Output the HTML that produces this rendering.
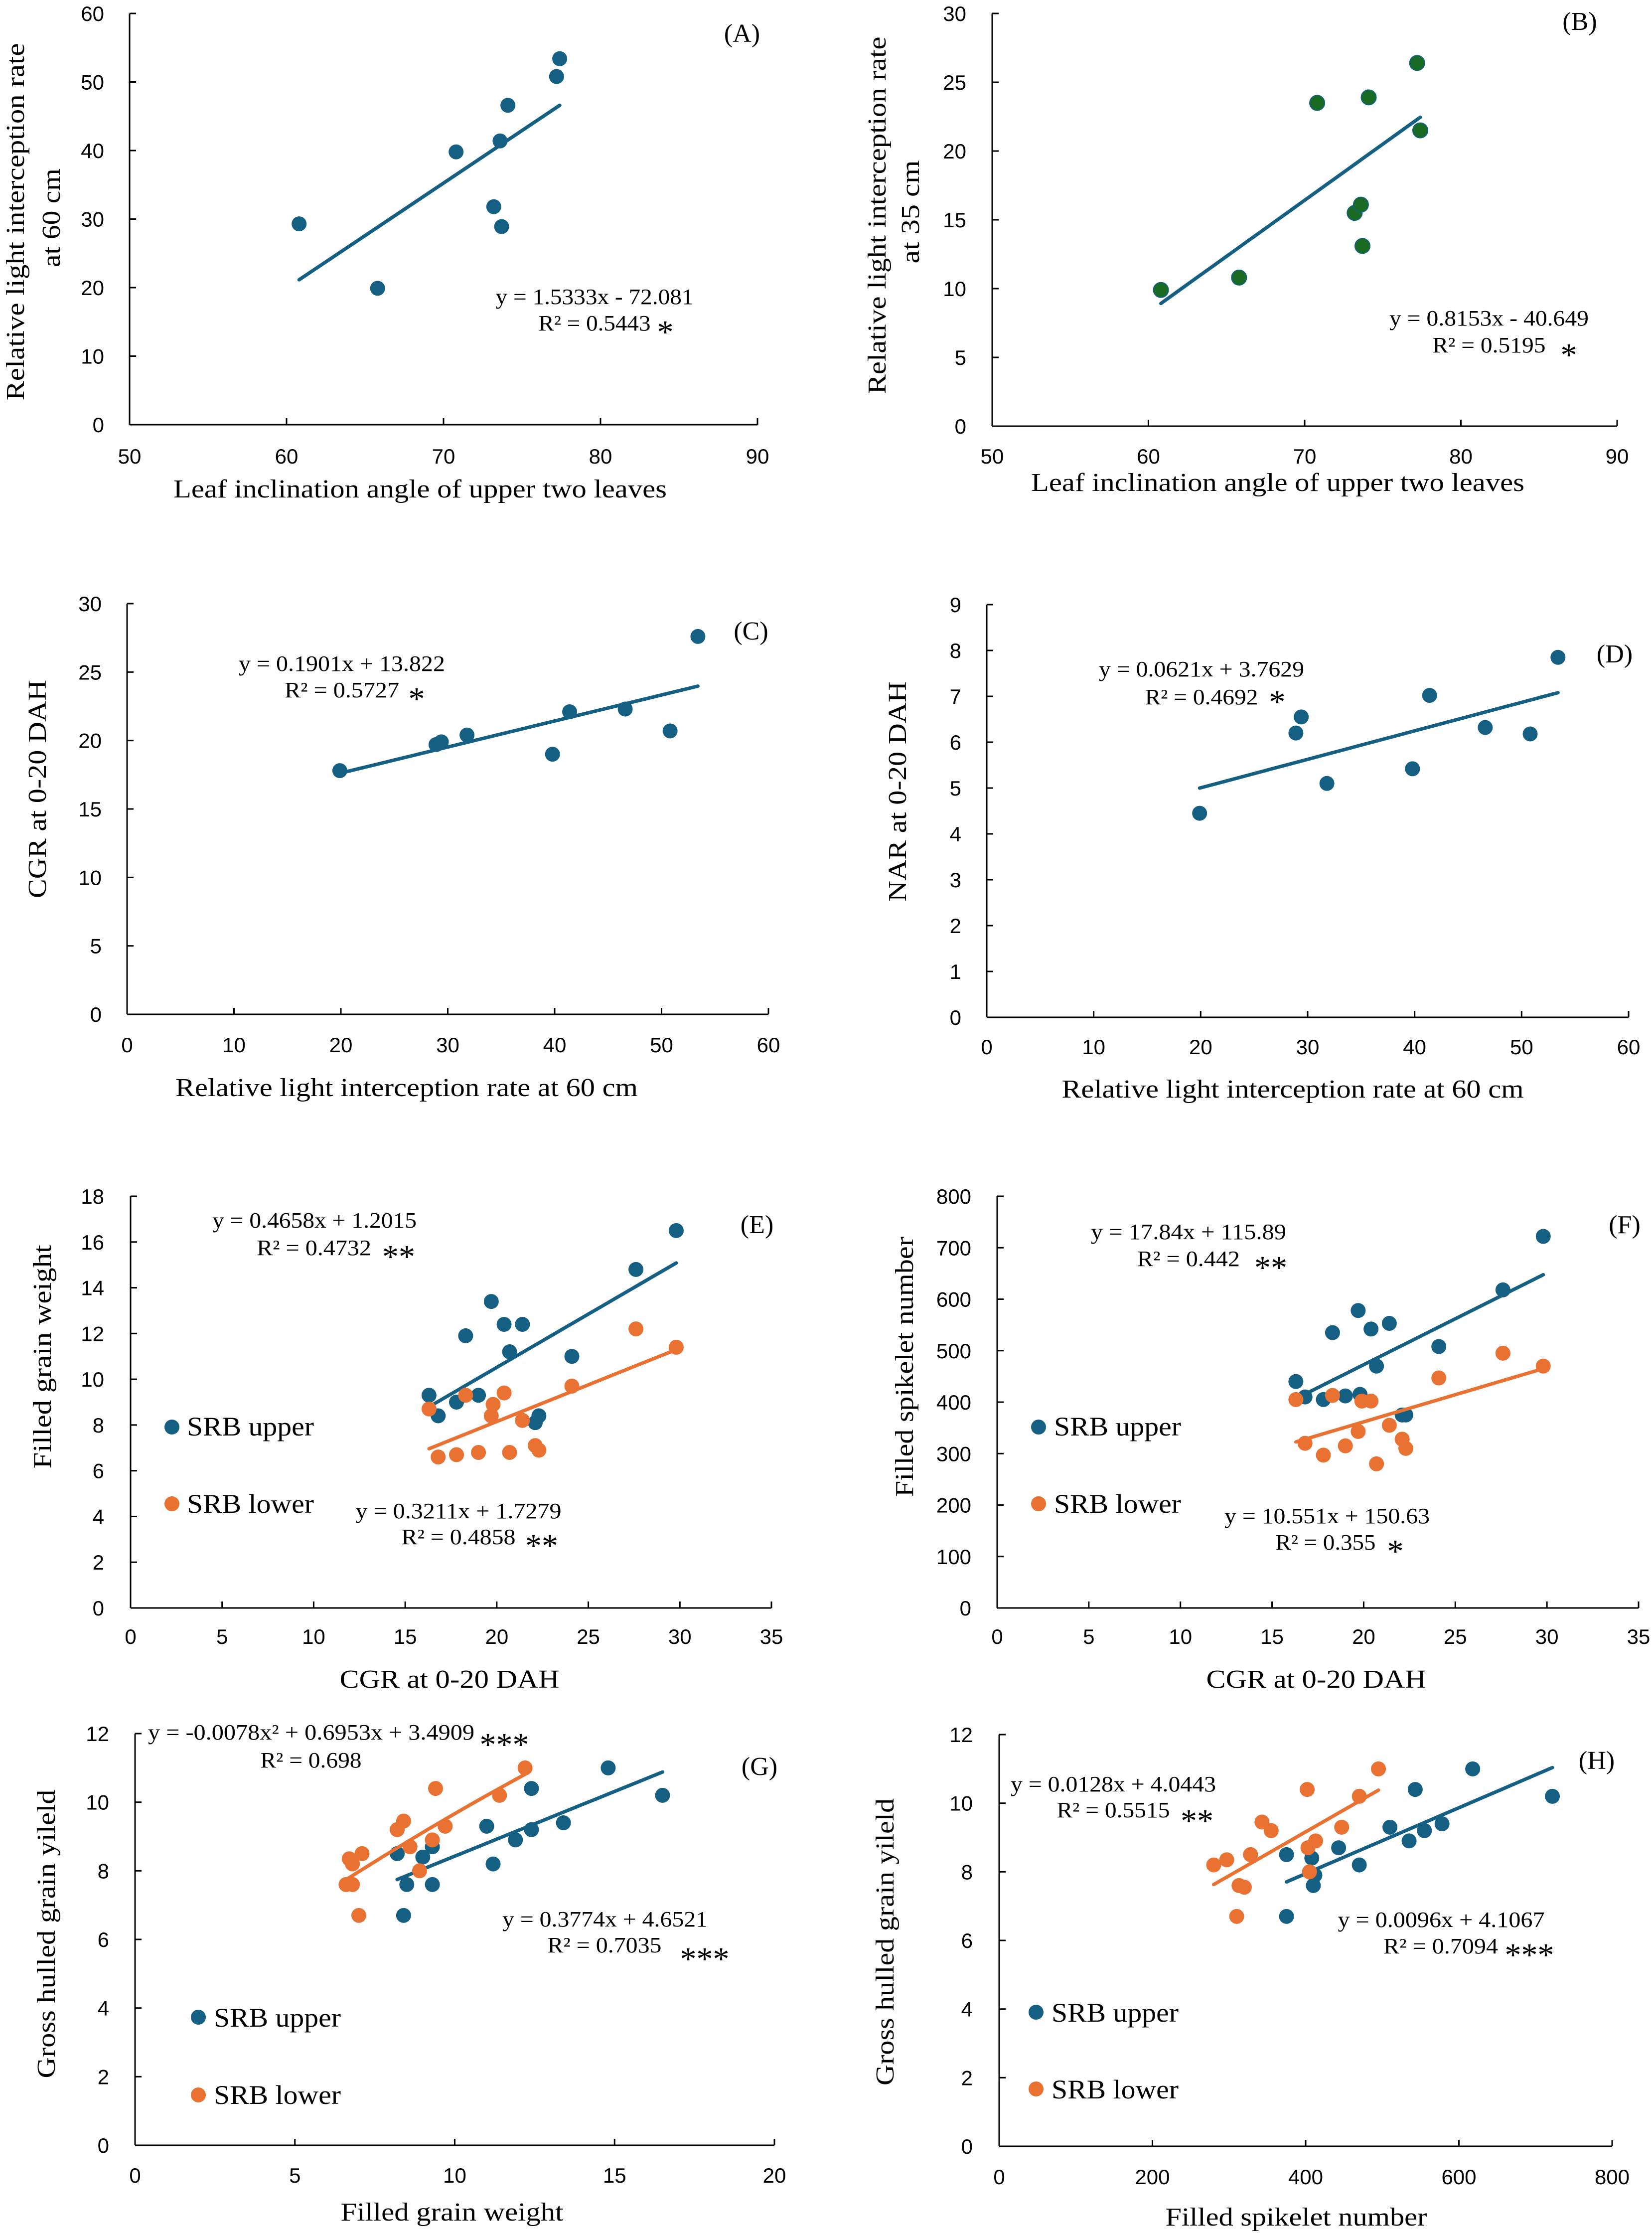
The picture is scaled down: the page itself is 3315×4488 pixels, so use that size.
<!DOCTYPE html>
<html><head><meta charset="utf-8">
<style>
html,body{margin:0;padding:0;background:#fff;}
svg{display:block;}
.tk{font-family:"Liberation Sans",Arial,sans-serif;font-size:42px;fill:#000;}
.tt{font-family:"Liberation Serif","Times New Roman",serif;font-size:52px;fill:#000;}
.eq{font-family:"Liberation Serif","Times New Roman",serif;font-size:44px;fill:#000;}
.sg{font-family:"Liberation Serif","Times New Roman",serif;font-size:66px;fill:#000;}
.lg{font-family:"Liberation Serif","Times New Roman",serif;font-size:54px;fill:#000;}
.pl{font-family:"Liberation Serif","Times New Roman",serif;font-size:52px;fill:#000;}
</style></head>
<body>
<svg id="fig" xmlns="http://www.w3.org/2000/svg" width="3315" height="4488" viewBox="0 0 3315 4488"></svg>
<script>
// ---- data ----
const A_x=[60.8,65.8,70.8,73.2,73.6,73.7,74.1,77.2,77.4];
const A_y=[29.3,19.9,39.8,31.8,41.4,28.9,46.6,50.8,53.4];
const B_y=[9.9,10.8,23.5,15.5,16.1,13.1,23.9,26.4,21.5];
const C_x=[19.9,28.9,29.4,31.8,39.8,41.4,46.6,50.8,53.4];
const C_y=[17.8,19.7,19.9,20.4,19.0,22.1,22.3,20.7,27.6];
const D_y=[4.45,6.2,6.55,5.1,5.42,7.02,6.32,6.18,7.85];
const E_xu=[16.3,16.8,17.8,18.3,19.0,19.7,20.4,20.7,21.4,22.1,22.3,24.1,27.6,29.8];
const E_yu=[9.3,8.4,9.0,11.9,9.3,13.4,12.4,11.2,12.4,8.1,8.4,11.0,14.8,16.5];
const E_xl=[16.3,16.8,17.8,18.3,19.0,19.7,19.8,20.4,20.7,21.4,22.1,22.3,24.1,27.6,29.8];
const E_yl=[8.7,6.6,6.7,9.3,6.8,8.4,8.9,9.4,6.8,8.2,7.1,6.9,9.7,12.2,11.4];
const F_xu=[16.3,16.8,17.8,18.3,19.0,19.7,19.8,20.4,20.7,21.4,22.1,22.3,24.1,27.6,29.8];
const F_yu=[440,410,405,535,412,578,415,542,470,553,375,375,508,618,722];
const F_xl=[16.3,16.8,17.8,18.3,19.0,19.7,19.9,20.4,20.7,21.4,22.1,22.3,24.1,27.6,29.8];
const F_yl=[405,320,297,413,315,343,402,402,280,355,328,310,447,495,470];
const G_xu=[8.2,8.4,8.5,9.0,9.3,9.3,11.0,11.2,11.9,12.4,12.4,13.4,14.8,16.5];
const G_yu=[8.5,6.7,7.6,8.4,8.7,7.6,9.3,8.2,8.9,9.2,10.4,9.4,11.0,10.2];
const G_xl=[6.6,6.7,6.8,6.8,7.0,7.1,8.2,8.4,8.6,8.9,9.3,9.4,9.7,11.4,12.2];
const G_yl=[7.6,8.35,8.2,7.6,6.7,8.5,9.2,9.45,8.7,8.0,8.9,10.4,9.3,10.2,11.0];
const H_xu=[375,375,408,410,412,443,470,510,535,543,555,578,618,722];
const H_yu=[8.5,6.7,8.4,7.6,7.9,8.7,8.2,9.3,8.9,10.4,9.2,9.4,11.0,10.2];
const H_xl=[280,297,310,313,320,328,343,355,402,403,405,413,447,470,495];
const H_yl=[8.2,8.35,6.7,7.6,7.55,8.5,9.45,9.2,10.4,8.7,8.0,8.9,9.3,10.2,11.0];
const A_xticks=[50,60,70,80,90], A_yticks=[0,10,20,30,40,50,60];
const B_yticks=[0,5,10,15,20,25,30];
const C_xticks=[0,10,20,30,40,50,60], C_yticks=[0,5,10,15,20,25,30];
const D_yticks=[0,1,2,3,4,5,6,7,8,9];
const E_xticks=[0,5,10,15,20,25,30,35], E_yticks=[0,2,4,6,8,10,12,14,16,18];
const F_yticks=[0,100,200,300,400,500,600,700,800];
const G_xticks=[0,5,10,15,20], G_yticks=[0,2,4,6,8,10,12];
const H_xticks=[0,200,400,600,800];
// trendline coefficients [c2,c1,c0]
const A_fit=[0,1.5333,-72.081], B_fit=[0,0.8153,-40.649], C_fit=[0,0.1901,13.822], D_fit=[0,0.0621,3.7629];
const E_fitU=[0,0.4658,1.2015], E_fitL=[0,0.3211,1.7279];
const F_fitU=[0,17.84,115.89], F_fitL=[0,10.551,150.63];
const G_fitU=[0,0.3774,4.6521], G_fitL=[-0.0078,0.6953,3.4909];
const H_fitU=[0,0.0096,4.1067], H_fitL=[0,0.0128,4.0443];

const BLUE='#156082', ORANGE='#E97132', GREEN='#196B24';
const NS='http://www.w3.org/2000/svg';
const svg=document.getElementById('fig');
function mk(tag,parent,attrs,name){
  const el=document.createElementNS(NS,tag);
  for(const k in attrs) el.setAttribute(k,attrs[k]);
  
  
  parent.appendChild(el);return el;
}
function txt(parent,s,x,y,cls,name,opt){
  opt=opt||{};
  const a={x:x,y:y,'class':cls};
  if(opt.anchor) a['text-anchor']=opt.anchor;
  if(opt.len){a.textLength=opt.len;a.lengthAdjust='spacingAndGlyphs';}
  if(opt.rot){a.transform='rotate(-90 '+x+' '+y+')';}
  const t=mk('text',parent,a,name);t.textContent=s;return t;
}
function panel(P){
  const g=mk('g',svg,{},'panel-'+P.id);
  const sx=v=>P.x0+(v-P.xmin)/(P.xmax-P.xmin)*(P.x1-P.x0);
  const sy=v=>P.yb-(v-P.ymin)/(P.ymax-P.ymin)*(P.yb-P.yt);
  mk('line',g,{x1:P.x0,y1:P.yt,x2:P.x0,y2:P.yb,stroke:'#000','stroke-width':3},'y-axis');
  mk('line',g,{x1:P.x0,y1:P.yb,x2:P.x1,y2:P.yb,stroke:'#000','stroke-width':3},'x-axis');
  P.yticks.forEach(v=>{
    const y=sy(v);
    mk('line',g,{x1:P.x0,y1:y,x2:P.x0+13,y2:y,stroke:'#000','stroke-width':3},'y-tick');
    txt(g,String(v),P.ylx,y+15,'tk','y-tick-label',{anchor:'end'});
  });
  P.xticks.forEach(v=>{
    const x=sx(v);
    mk('line',g,{x1:x,y1:P.yb,x2:x,y2:P.yb-13,stroke:'#000','stroke-width':3},'x-tick');
    txt(g,String(v),x,P.xly,'tk','x-tick-label',{anchor:'middle'});
  });
  P.series.forEach(S=>{
    const xs=S.x, c=S.fit;
    const lo=Math.min(...xs), hi=Math.max(...xs);
    let pts=[];
    for(let i=0;i<=20;i++){const xv=lo+(hi-lo)*i/20;pts.push(sx(xv).toFixed(1)+','+sy(c[0]*xv*xv+c[1]*xv+c[2]).toFixed(1));}
    mk('polyline',g,{points:pts.join(' '),fill:'none',stroke:S.line,'stroke-width':7,'stroke-linecap':'round'},'trendline-'+S.name);
    xs.forEach((xv,i)=>{
      const a={cx:sx(xv),cy:sy(S.y[i]),r:15,fill:S.color};
      if(S.edge){a.stroke=S.edge;a['stroke-width']=2;}
      mk('circle',g,a,'point-'+S.name);
    });
  });
  P.texts.forEach(T=>txt(g,T[0],T[1],T[2],T[3],T[4],T[5]));
  return g;
}
const U={name:'srb-upper',color:BLUE,line:BLUE}, L={name:'srb-lower',color:ORANGE,line:ORANGE};
const panels=[
 {id:'a',x0:260,x1:1520,yt:27,yb:852,xmin:50,xmax:90,ymin:0,ymax:60,xticks:A_xticks,yticks:A_yticks,ylx:209,xly:930,
  series:[{name:'a',x:A_x,y:A_y,fit:A_fit,color:BLUE,line:BLUE}],
  texts:[['Leaf inclination angle of upper two leaves',843,998,'tt','x-axis-title',{anchor:'middle',len:990}],
   ['Relative light interception rate',48,445,'tt','y-axis-title',{anchor:'middle',rot:1,len:717}],
   ['at 60 cm',120,437,'tt','y-axis-title-line2',{anchor:'middle',rot:1,len:198}],
   ['(A)',1489,84,'pl','panel-label',{anchor:'middle'}],
   ['y = 1.5333x - 72.081',1193,610,'eq','trend-equation',{anchor:'middle',len:397}],
   ['R² = 0.5443',1193,663,'eq','r-squared',{anchor:'middle',len:225}],
   ['*',1335,688,'sg','significance',{anchor:'middle'}]]},
 {id:'b',x0:1991,x1:3245,yt:27,yb:855,xmin:50,xmax:90,ymin:0,ymax:30,xticks:A_xticks,yticks:B_yticks,ylx:1939,xly:930,
  series:[{name:'b',x:A_x,y:B_y,fit:B_fit,color:GREEN,line:BLUE,edge:BLUE}],
  texts:[['Leaf inclination angle of upper two leaves',2564,985,'tt','x-axis-title',{anchor:'middle',len:990}],
   ['Relative light interception rate',1777,432,'tt','y-axis-title',{anchor:'middle',rot:1,len:717}],
   ['at 35 cm',1844,425,'tt','y-axis-title-line2',{anchor:'middle',rot:1,len:207}],
   ['(B)',3170,60,'pl','panel-label',{anchor:'middle'}],
   ['y = 0.8153x - 40.649',2988,653,'eq','trend-equation',{anchor:'middle',len:400}],
   ['R² = 0.5195',2988,707,'eq','r-squared',{anchor:'middle',len:227}],
   ['*',3148,734,'sg','significance',{anchor:'middle'}]]},
 {id:'c',x0:255,x1:1542,yt:1211,yb:2035,xmin:0,xmax:60,ymin:0,ymax:30,xticks:C_xticks,yticks:C_yticks,ylx:204,xly:2111,
  series:[{name:'c',x:C_x,y:C_y,fit:C_fit,color:BLUE,line:BLUE}],
  texts:[['Relative light interception rate at 60 cm',816,2199,'tt','x-axis-title',{anchor:'middle',len:928}],
   ['CGR at 0-20 DAH',92,1583,'tt','y-axis-title',{anchor:'middle',rot:1,len:438}],
   ['(C)',1507,1283,'pl','panel-label',{anchor:'middle'}],
   ['y = 0.1901x + 13.822',686,1346,'eq','trend-equation',{anchor:'middle',len:414}],
   ['R² = 0.5727',686,1399,'eq','r-squared',{anchor:'middle',len:230}],
   ['*',836,1424,'sg','significance',{anchor:'middle'}]]},
 {id:'d',x0:1980,x1:3268,yt:1213,yb:2041,xmin:0,xmax:60,ymin:0,ymax:9,xticks:C_xticks,yticks:D_yticks,ylx:1929,xly:2115,
  series:[{name:'d',x:C_x,y:D_y,fit:D_fit,color:BLUE,line:BLUE}],
  texts:[['Relative light interception rate at 60 cm',2594,2202,'tt','x-axis-title',{anchor:'middle',len:927}],
   ['NAR at 0-20 DAH',1818,1588,'tt','y-axis-title',{anchor:'middle',rot:1,len:442}],
   ['(D)',3240,1329,'pl','panel-label',{anchor:'middle'}],
   ['y = 0.0621x + 3.7629',2411,1357,'eq','trend-equation',{anchor:'middle',len:412}],
   ['R² = 0.4692',2411,1413,'eq','r-squared',{anchor:'middle',len:227}],
   ['*',2563,1430,'sg','significance',{anchor:'middle'}]]},
 {id:'e',x0:262,x1:1548,yt:2400,yb:3226,xmin:0,xmax:35,ymin:0,ymax:18,xticks:E_xticks,yticks:E_yticks,ylx:209,xly:3298,
  series:[Object.assign({x:E_xu,y:E_yu,fit:E_fitU},U),Object.assign({x:E_xl,y:E_yl,fit:E_fitL},L)],
  texts:[['CGR at 0-20 DAH',902,3386,'tt','x-axis-title',{anchor:'middle',len:441}],
   ['Filled grain weight',102,2722,'tt','y-axis-title',{anchor:'middle',rot:1,len:449}],
   ['(E)',1519,2474,'pl','panel-label',{anchor:'middle'}],
   ['y = 0.4658x + 1.2015',631,2463,'eq','trend-equation-upper',{anchor:'middle',len:410}],
   ['R² = 0.4732',630,2518,'eq','r-squared-upper',{anchor:'middle',len:230}],
   ['**',800,2543,'sg','significance-upper',{anchor:'middle'}],
   ['y = 0.3211x + 1.7279',920,3046,'eq','trend-equation-lower',{anchor:'middle',len:413}],
   ['R² = 0.4858',920,3098,'eq','r-squared-lower',{anchor:'middle',len:229}],
   ['**',1087,3123,'sg','significance-lower',{anchor:'middle'}],
   ['SRB upper',375,2880,'lg','legend-label-upper',{len:255}],
   ['SRB lower',375,3035,'lg','legend-label-lower',{len:255}]],
  legend:[[345,2863,BLUE],[345,3017,ORANGE]]},
 {id:'f',x0:2001,x1:3288,yt:2400,yb:3226,xmin:0,xmax:35,ymin:0,ymax:800,xticks:E_xticks,yticks:F_yticks,ylx:1949,xly:3298,
  series:[Object.assign({x:F_xu,y:F_yu,fit:F_fitU},U),Object.assign({x:F_xl,y:F_yl,fit:F_fitL},L)],
  texts:[['CGR at 0-20 DAH',2641,3386,'tt','x-axis-title',{anchor:'middle',len:441}],
   ['Filled spikelet number',1832,2742,'tt','y-axis-title',{anchor:'middle',rot:1,len:522}],
   ['(F)',3260,2474,'pl','panel-label',{anchor:'middle'}],
   ['y = 17.84x + 115.89',2385,2486,'eq','trend-equation-upper',{anchor:'middle',len:392}],
   ['R² = 0.442',2385,2540,'eq','r-squared-upper',{anchor:'middle',len:206}],
   ['**',2550,2565,'sg','significance-upper',{anchor:'middle'}],
   ['y = 10.551x + 150.63',2663,3056,'eq','trend-equation-lower',{anchor:'middle',len:412}],
   ['R² = 0.355',2660,3109,'eq','r-squared-lower',{anchor:'middle',len:201}],
   ['*',2800,3134,'sg','significance-lower',{anchor:'middle'}],
   ['SRB upper',2115,2880,'lg','legend-label-upper',{len:255}],
   ['SRB lower',2115,3035,'lg','legend-label-lower',{len:255}]],
  legend:[[2084,2863,BLUE],[2084,3017,ORANGE]]},
 {id:'g',x0:271,x1:1554,yt:3478,yb:4304,xmin:0,xmax:20,ymin:0,ymax:12,xticks:G_xticks,yticks:G_yticks,ylx:219,xly:4379,
  series:[Object.assign({x:G_xu,y:G_yu,fit:G_fitU},U),Object.assign({x:G_xl,y:G_yl,fit:G_fitL},L)],
  texts:[['Filled grain weight',907,4455,'tt','x-axis-title',{anchor:'middle',len:447}],
   ['Gross hulled grain yileld',110,3880,'tt','y-axis-title',{anchor:'middle',rot:1,len:579}],
   ['(G)',1524,3561,'pl','panel-label',{anchor:'middle'}],
   ['y = -0.0078x² + 0.6953x + 3.4909',297,3490,'eq','trend-equation-lower',{len:655}],
   ['***',1012,3522,'sg','significance-lower',{anchor:'middle'}],
   ['R² = 0.698',624,3546,'eq','r-squared-lower',{anchor:'middle',len:203}],
   ['y = 0.3774x + 4.6521',1214,3865,'eq','trend-equation-upper',{anchor:'middle',len:412}],
   ['R² = 0.7035',1213,3917,'eq','r-squared-upper',{anchor:'middle',len:229}],
   ['***',1414,3952,'sg','significance-upper',{anchor:'middle'}],
   ['SRB upper',429,4066,'lg','legend-label-upper',{len:255}],
   ['SRB lower',429,4221,'lg','legend-label-lower',{len:255}]],
  legend:[[398,4047,BLUE],[398,4203,ORANGE]]},
 {id:'h',x0:2005,x1:3235,yt:3480,yb:4306,xmin:0,xmax:800,ymin:0,ymax:12,xticks:H_xticks,yticks:G_yticks,ylx:1952,xly:4382,
  series:[Object.assign({x:H_xu,y:H_yu,fit:H_fitU},U),Object.assign({x:H_xl,y:H_yl,fit:H_fitL},L)],
  texts:[['Filled spikelet number',2601,4465,'tt','x-axis-title',{anchor:'middle',len:525}],
   ['Gross hulled grain yileld',1793,3896,'tt','y-axis-title',{anchor:'middle',rot:1,len:576}],
   ['(H)',3204,3549,'pl','panel-label',{anchor:'middle'}],
   ['y = 0.0128x + 4.0443',2234,3594,'eq','trend-equation-lower',{anchor:'middle',len:412}],
   ['R² = 0.5515',2234,3646,'eq','r-squared-lower',{anchor:'middle',len:227}],
   ['**',2402,3675,'sg','significance-lower',{anchor:'middle'}],
   ['y = 0.0096x + 4.1067',2892,3866,'eq','trend-equation-upper',{anchor:'middle',len:415}],
   ['R² = 0.7094',2891,3919,'eq','r-squared-upper',{anchor:'middle',len:230}],
   ['***',3069,3944,'sg','significance-upper',{anchor:'middle'}],
   ['SRB upper',2110,4056,'lg','legend-label-upper',{len:255}],
   ['SRB lower',2110,4210,'lg','legend-label-lower',{len:255}]],
  legend:[[2079,4037,BLUE],[2079,4191,ORANGE]]}
];
panels.forEach(P=>{
  const g=panel(P);
  (P.legend||[]).forEach(l=>mk('circle',g,{cx:l[0],cy:l[1],r:15,fill:l[2]},'legend-marker'));
});
</script>
</body></html>
